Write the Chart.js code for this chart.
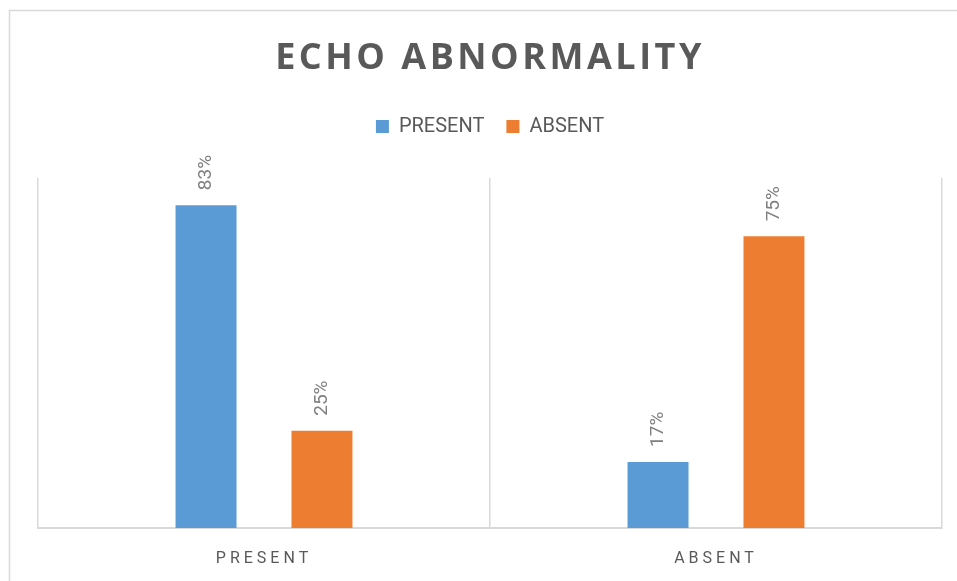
<!DOCTYPE html>
<html>
<head>
<meta charset="utf-8">
<title>Echo Abnormality</title>
<script src="https://cdn.jsdelivr.net/npm/chart.js@4/dist/chart.umd.min.js"></script>
<style>
  html, body { margin: 0; padding: 0; background: #ffffff; }
  #wrap { width: 957px; height: 581px; }
</style>
</head>
<body>
<div id="wrap"><canvas id="chart" width="957" height="581"></canvas></div>
<script>
// Categories on the x axis
const categories = ['PRESENT', 'ABSENT'];
// Series names (legend)
const seriesNames = ['PRESENT', 'ABSENT'];
// Percentages per series, one value per category
const presentValues = [83, 17];
const absentValues = [25, 75];
// Series colours
const seriesColors = ['#5B9BD5', '#ED7D31'];

const TEXT_GREY = '#595959';
const LABEL_GREY = '#7F7F7F';
const LINE_GREY = '#D9D9D9';

// Thin frame around the whole chart
const framePlugin = {
  id: 'frame',
  beforeDraw(chart) {
    const ctx = chart.ctx;
    ctx.save();
    ctx.strokeStyle = LINE_GREY;
    ctx.lineWidth = 1.5;
    ctx.strokeRect(9.5, 10.5, 1200, 1200);
    ctx.restore();
  }
};

// Spaced-out lettering for the title and category labels,
// plus extra room under the legend
const spacingPlugin = {
  id: 'spacing',
  afterInit(chart) {
    const tb = chart.titleBlock;
    if (tb && !tb._spaced) {
      const d = tb.draw;
      tb.draw = function (area) {
        const ctx = this.ctx;
        ctx.save();
        ctx.letterSpacing = '3.5px';
        d.call(this, area);
        ctx.restore();
      };
      tb._spaced = true;
    }
    const lg = chart.legend;
    if (lg && !lg._padded) {
      const f = lg.fit;
      lg.fit = function () {
        f.call(this);
        this.height += 31.5;
      };
      lg._padded = true;
    }
  },
  beforeDraw(chart) {
    const s = chart.scales.x;
    if (s && !s._spaced) {
      const d = s.drawLabels;
      s.drawLabels = function (area) {
        const ctx = this.ctx;
        ctx.save();
        ctx.letterSpacing = '4px';
        d.call(this, area);
        ctx.restore();
      };
      s._spaced = true;
    }
  }
};

// Vertical value labels above each bar
const valueLabelPlugin = {
  id: 'valueLabels',
  afterDatasetsDraw(chart) {
    const ctx = chart.ctx;
    ctx.save();
    ctx.font = '19px Roboto';
    ctx.fillStyle = LABEL_GREY;
    ctx.textAlign = 'left';
    ctx.textBaseline = 'middle';
    chart.data.datasets.forEach((ds, i) => {
      const meta = chart.getDatasetMeta(i);
      meta.data.forEach((bar, j) => {
        ctx.save();
        ctx.translate(bar.x, bar.y - 15);
        ctx.rotate(-Math.PI / 2);
        ctx.fillText(ds.data[j] + '%', 0, 0);
        ctx.restore();
      });
    });
    ctx.restore();
  }
};

new Chart(document.getElementById('chart'), {
  type: 'bar',
  data: {
    labels: categories,
    datasets: [
      { label: seriesNames[0], data: presentValues, backgroundColor: seriesColors[0] },
      { label: seriesNames[1], data: absentValues, backgroundColor: seriesColors[1] }
    ]
  },
  options: {
    responsive: false,
    animation: false,
    devicePixelRatio: 1,
    categoryPercentage: 0.513,
    barPercentage: 0.526,
    layout: { padding: { left: 38, right: 15, top: 0, bottom: 0 } },
    plugins: {
      title: {
        display: true,
        text: 'ECHO ABNORMALITY',
        color: TEXT_GREY,
        font: { family: '"Open Sans"', size: 36, weight: 'bold' },
        padding: { top: 37, bottom: 14.3 }
      },
      legend: {
        display: true,
        position: 'top',
        labels: {
          color: TEXT_GREY,
          font: { family: 'Roboto', size: 20 },
          boxWidth: 13,
          boxHeight: 13,
          padding: 22
        }
      },
      tooltip: { enabled: false }
    },
    scales: {
      x: {
        grid: { display: true, offset: true, color: LINE_GREY, lineWidth: 1.5, drawTicks: false },
        border: { display: true, color: LINE_GREY, width: 2 },
        ticks: {
          color: TEXT_GREY,
          font: { family: 'Roboto', size: 16 },
          padding: 21
        },
        afterFit(scale) { scale.height = 53; }
      },
      y: {
        display: false,
        min: 0,
        max: 90
      }
    }
  },
  plugins: [framePlugin, spacingPlugin, valueLabelPlugin]
});
</script>
</body>
</html>
